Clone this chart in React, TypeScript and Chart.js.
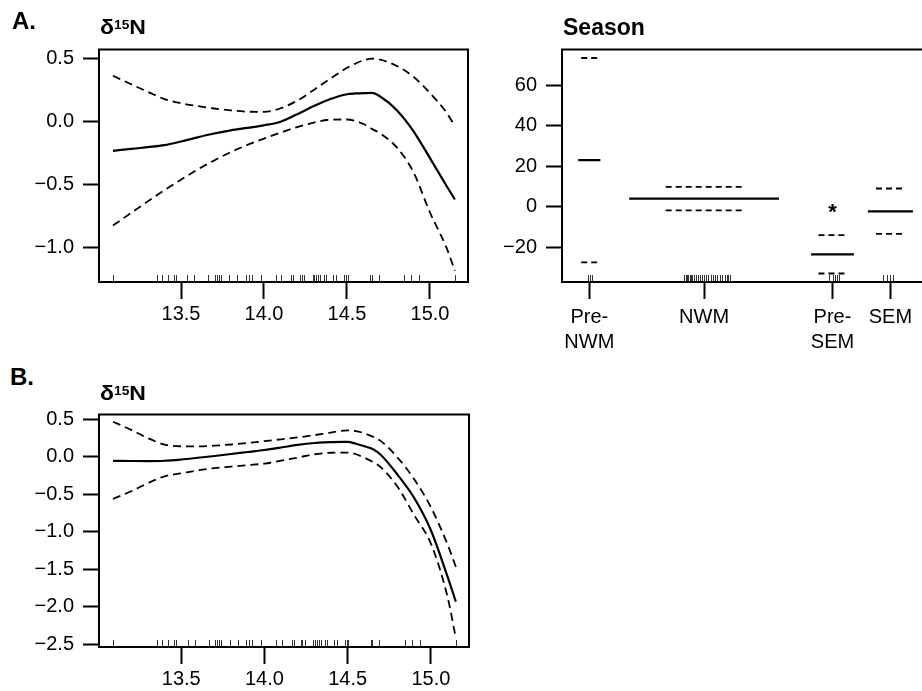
import React, { useEffect, useRef } from 'react';
import { Chart, registerables } from 'chart.js';

Chart.register(...registerables);

const FONT = "'Liberation Sans', Arial, Helvetica, sans-serif";

// ---- δ15N smooth terms (panels A and B) ----
const xGrid = [13.09, 13.2, 13.3, 13.4, 13.5, 13.6, 13.7, 13.8, 13.9, 14.0, 14.1, 14.2, 14.3, 14.4, 14.5, 14.55, 14.6, 14.65, 14.7, 14.8, 14.9, 15.0, 15.1, 15.15];

const fitA = [-0.232, -0.217, -0.203, -0.187, -0.158, -0.125, -0.095, -0.07, -0.05, -0.03, -0.002, 0.057, 0.122, 0.178, 0.216, 0.222, 0.224, 0.226, 0.198, 0.09, -0.075, -0.29, -0.51, -0.617];
const upperA = [0.362, 0.295, 0.235, 0.178, 0.145, 0.122, 0.103, 0.088, 0.078, 0.076, 0.105, 0.165, 0.25, 0.34, 0.425, 0.458, 0.485, 0.497, 0.49, 0.44, 0.355, 0.225, 0.07, -0.037];
const lowerA = [-0.823, -0.723, -0.632, -0.543, -0.46, -0.38, -0.308, -0.242, -0.185, -0.135, -0.088, -0.044, -0.008, 0.015, 0.016, 0.005, -0.02, -0.058, -0.095, -0.205, -0.4, -0.72, -1.0, -1.182];

const fitB = [-0.053, -0.055, -0.056, -0.052, -0.035, -0.012, 0.012, 0.038, 0.065, 0.092, 0.125, 0.16, 0.185, 0.198, 0.199, 0.175, 0.142, 0.105, 0.025, -0.24, -0.55, -0.98, -1.6, -1.934];
const upperB = [0.469, 0.36, 0.25, 0.165, 0.142, 0.14, 0.15, 0.165, 0.185, 0.21, 0.235, 0.26, 0.29, 0.325, 0.354, 0.345, 0.315, 0.27, 0.21, -0.01, -0.3, -0.673, -1.17, -1.469];
const lowerB = [-0.562, -0.46, -0.35, -0.26, -0.22, -0.18, -0.15, -0.13, -0.11, -0.09, -0.05, -0.01, 0.035, 0.055, 0.058, 0.035, -0.01, -0.065, -0.14, -0.4, -0.78, -1.159, -1.87, -2.42];

// observed δ15N values (rug)
const rugN = [13.089, 13.354, 13.386, 13.42, 13.458, 13.47, 13.538, 13.58, 13.665, 13.705, 13.715, 13.727, 13.741, 13.791, 13.839, 13.89, 13.91, 13.926, 13.982, 14.072, 14.105, 14.163, 14.177, 14.217, 14.227, 14.241, 14.293, 14.303, 14.313, 14.327, 14.337, 14.363, 14.373, 14.417, 14.434, 14.484, 14.494, 14.504, 14.639, 14.649, 14.691, 14.843, 14.886, 14.936, 15.151];

const xTicksN = [13.5, 14.0, 14.5, 15.0];
const yTicksA = [-1.0, -0.5, 0.0, 0.5];
const yTicksB = [-2.5, -2.0, -1.5, -1.0, -0.5, 0.0, 0.5];

// ---- Season factor term ----
const seasonLabels = [['Pre-', 'NWM'], ['NWM'], ['Pre-', 'SEM'], ['SEM']];
const seasonPos = [0.74, 3.85, 7.33, 8.9];
const seasonSpan = [0.3, 2.03, 0.58, 0.61];
const seasonSeSpan = [0.22, 1.04, 0.38, 0.39];
const seasonEffect = [23, 4, -23.5, -2.3];
const seasonUpper = [73.5, 9.8, -14, 9];
const seasonLower = [-27.5, -1.8, -33, -13.4];
const seasonSignif = ['', '', '*', ''];
const seasonRug = [0.713, 0.76, 0.821, 3.306, 3.347, 3.388, 3.423, 3.461, 3.496, 3.531, 3.569, 3.631, 3.694, 3.74, 3.786, 3.848, 3.902, 3.965, 4.03, 4.084, 4.146, 4.209, 4.282, 4.344, 4.417, 4.463, 4.507, 4.553, 7.244, 7.336, 7.398, 7.444, 7.499, 8.707, 8.799, 8.889, 8.97];
const yTicksSeason = [-20, 0, 20, 40, 60];

const fmt1 = (v: number) => (v < 0 ? '\u2212' : '') + Math.abs(v).toFixed(1);
const fmt0 = (v: number) => (v < 0 ? '\u2212' : '') + Math.abs(v).toFixed(0);
const tickFont = { family: FONT, size: 20, lineHeight: 1.25 };

function framePlugin(rug: number[]) {
  return {
    id: 'frame',
    afterDatasetsDraw(chart: any) {
      const { ctx, chartArea } = chart;
      const { left, top, right, bottom } = chartArea;
      const xs = chart.scales.x;
      ctx.save();
      ctx.strokeStyle = '#333';
      ctx.lineWidth = 1;
      ctx.beginPath();
      rug.forEach((v) => {
        const px = Math.round(xs.getPixelForValue(v)) + 0.5;
        ctx.moveTo(px, bottom);
        ctx.lineTo(px, bottom - 7);
      });
      ctx.stroke();
      ctx.strokeStyle = '#000';
      ctx.lineWidth = 2;
      ctx.strokeRect(left, top, right - left, bottom - top);
      ctx.restore();
    },
  };
}

function makeScales(o: any) {
  return {
    x: {
      type: 'linear',
      min: o.xMin,
      max: o.xMax,
      afterBuildTicks: (s: any) => {
        s.ticks = o.xTicks.map((v: number) => ({ value: v }));
      },
      afterFit: (s: any) => {
        s.height = o.xHeight;
      },
      ticks: { callback: o.xFmt, font: tickFont, color: '#000', padding: o.xPad, maxRotation: 0, minRotation: 0, autoSkip: false },
      grid: { drawOnChartArea: false, drawTicks: true, tickLength: 17, tickWidth: 2, tickColor: '#000' },
      border: { display: false },
    },
    y: {
      type: 'linear',
      min: o.yMin,
      max: o.yMax,
      afterBuildTicks: (s: any) => {
        s.ticks = o.yTicks.map((v: number) => ({ value: v }));
      },
      afterFit: (s: any) => {
        s.width = o.yWidth;
      },
      ticks: { callback: o.yFmt, font: tickFont, color: '#000', padding: 9, autoSkip: false },
      grid: { drawOnChartArea: false, drawTicks: true, tickLength: 16, tickWidth: 2, tickColor: '#000' },
      border: { display: false },
    },
  };
}

function CurvePanel(props: any) {
  const ref = useRef<HTMLCanvasElement>(null);
  const { left, top, width, height, fit, upper, lower, yMin, yMax, yTicks } = props;
  useEffect(() => {
    const pts = (arr: number[]) => xGrid.map((x, i) => ({ x, y: arr[i] }));
    const base = { pointRadius: 0, borderColor: '#000', cubicInterpolationMode: 'monotone', fill: false };
    const chart = new Chart(ref.current as HTMLCanvasElement, {
      type: 'line',
      data: {
        datasets: [
          { ...base, data: pts(fit), borderWidth: 2.2 },
          { ...base, data: pts(upper), borderWidth: 1.8, borderDash: [8, 5] },
          { ...base, data: pts(lower), borderWidth: 1.8, borderDash: [8, 5] },
        ],
      } as any,
      options: {
        responsive: false,
        animation: false,
        devicePixelRatio: 1,
        events: [],
        layout: { padding: { top: 20, right: 6, left: 0, bottom: 0 } },
        plugins: { legend: { display: false }, tooltip: { enabled: false } },
        scales: makeScales({
          xMin: 13.006, xMax: 15.229, xTicks: xTicksN, xFmt: fmt1, xHeight: 70, xPad: 3,
          yMin, yMax, yTicks, yFmt: fmt1, yWidth: 99,
        }),
      } as any,
      plugins: [framePlugin(rugN)],
    });
    return () => chart.destroy();
  }, []);
  return (
    <canvas ref={ref} width={width} height={height}
      style={{ position: 'absolute', left, top, width, height }} />
  );
}

function SeasonPanel(props: any) {
  const ref = useRef<HTMLCanvasElement>(null);
  const { left, top, width, height } = props;
  useEffect(() => {
    const seg = (vals: number[], spans: number[]) =>
      seasonPos.flatMap((c, i) => [
        { x: c - spans[i], y: vals[i] },
        { x: c + spans[i], y: vals[i] },
        { x: c + spans[i], y: null },
      ]);
    const base = { pointRadius: 0, borderColor: '#000', fill: false, spanGaps: false };
    const signif = {
      id: 'signif',
      afterDatasetsDraw(chart: any) {
        const { ctx } = chart;
        const xs = chart.scales.x;
        const ys = chart.scales.y;
        ctx.save();
        ctx.fillStyle = '#000';
        ctx.font = `bold 22px ${FONT}`;
        ctx.textAlign = 'center';
        ctx.textBaseline = 'alphabetic';
        seasonSignif.forEach((s, i) => {
          if (!s) return;
          ctx.fillText(s, xs.getPixelForValue(seasonPos[i]), ys.getPixelForValue(seasonUpper[i]) - 16);
        });
        ctx.restore();
      },
    };
    const chart = new Chart(ref.current as HTMLCanvasElement, {
      type: 'line',
      data: {
        datasets: [
          { ...base, data: seg(seasonEffect, seasonSpan), borderWidth: 2.2 },
          { ...base, data: seg(seasonUpper, seasonSeSpan), borderWidth: 1.8, borderDash: [6, 4] },
          { ...base, data: seg(seasonLower, seasonSeSpan), borderWidth: 1.8, borderDash: [6, 4] },
        ],
      } as any,
      options: {
        responsive: false,
        animation: false,
        devicePixelRatio: 1,
        events: [],
        layout: { padding: { top: 20, right: 6, left: 0, bottom: 0 } },
        plugins: { legend: { display: false }, tooltip: { enabled: false } },
        scales: makeScales({
          xMin: 0, xMax: 10, xTicks: seasonPos, xFmt: (_v: any, i: number) => seasonLabels[i], xHeight: 90, xPad: 6,
          yMin: -37.2, yMax: 77.7, yTicks: yTicksSeason, yFmt: fmt0, yWidth: 100,
        }),
      } as any,
      plugins: [framePlugin(seasonRug), signif],
    });
    return () => chart.destroy();
  }, []);
  return (
    <canvas ref={ref} width={width} height={height}
      style={{ position: 'absolute', left, top, width, height }} />
  );
}

const txt = (left: number, top: number, size: number): React.CSSProperties => ({
  position: 'absolute', left, top, fontFamily: FONT, fontWeight: 'bold', fontSize: size,
  lineHeight: `${size}px`, whiteSpace: 'nowrap', color: '#000',
});

function Delta({ left, top }: { left: number; top: number }) {
  return (
    <div style={{ ...txt(left, top, 20), transform: 'scaleX(1.15)', transformOrigin: '0 0' }}>
      δ<span style={{ fontSize: 12, position: 'relative', top: -5 }}>15</span>N
    </div>
  );
}

export default function App() {
  return (
    <div style={{ position: 'fixed', left: 0, top: 0, width: 922, height: 691, overflow: 'hidden', background: '#fff' }}>
      <CurvePanel left={0} top={28} width={474} height={324}
        fit={fitA} upper={upperA} lower={lowerA} yMin={-1.27} yMax={0.57} yTicks={yTicksA} />
      <SeasonPanel left={462} top={28} width={475} height={344} />
      <CurvePanel left={0} top={393} width={475} height={324}
        fit={fitB} upper={upperB} lower={lowerB} yMin={-2.54} yMax={0.566} yTicks={yTicksB} />
      <div style={txt(12, 9, 24)}>A.</div>
      <Delta left={100} top={17.4} />
      <div style={txt(563, 15.5, 23)}>Season</div>
      <div style={txt(10, 365, 24)}>B.</div>
      <Delta left={100} top={383.1} />
    </div>
  );
}
